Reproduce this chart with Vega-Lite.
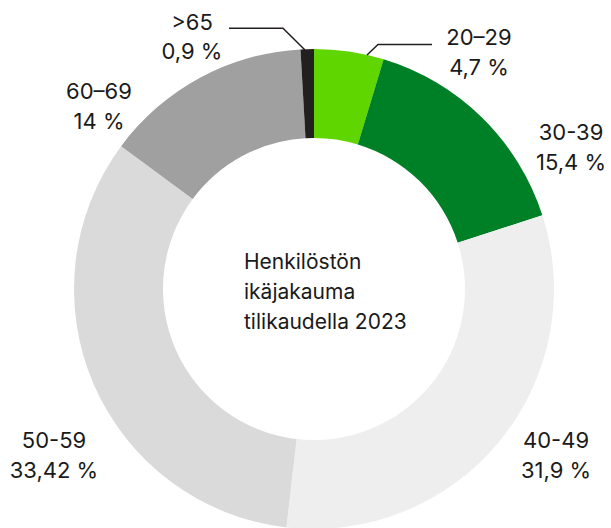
{
  "$schema": "https://vega.github.io/schema/vega-lite/v6.json",
  "width": 594,
  "height": 478,
  "autosize": {"type": "none"},
  "padding": {"left": 17, "top": 50, "right": 0, "bottom": 0},
  "background": "white",
  "config": {"view": {"stroke": null}, "font": "Inter"},
  "datasets": {
    "ages": [
      {"group": "20–29", "pct": 4.7},
      {"group": "30-39", "pct": 15.4},
      {"group": "40-49", "pct": 31.9},
      {"group": "50-59", "pct": 33.42},
      {"group": "60-69", "pct": 14},
      {"group": ">65", "pct": 0.9}
    ],
    "labels": [
      {"label": ">65\n0,9 %", "x": -122, "y": 266.5},
      {"label": "20–29\n4,7 %", "x": 165, "y": 251},
      {"label": "30-39\n15,4 %", "x": 257, "y": 156},
      {"label": "60–69\n14 %", "x": -215, "y": 197},
      {"label": "50-59\n33,42 %", "x": -260, "y": -152},
      {"label": "40-49\n31,9 %", "x": 242, "y": -152}
    ],
    "leaders": [
      {"line": "a", "k": 1, "x": -85, "y": 260.7},
      {"line": "a", "k": 2, "x": -31, "y": 260.7},
      {"line": "a", "k": 3, "x": -9, "y": 239},
      {"line": "b", "k": 1, "x": 53, "y": 234},
      {"line": "b", "k": 2, "x": 64, "y": 244.5},
      {"line": "b", "k": 3, "x": 118, "y": 244.5}
    ],
    "center": [
      {"label": "Henkilöstön\nikäjakauma\ntilikaudella 2023", "x": -70, "y": 26}
    ]
  },
  "layer": [
    {
      "data": {"name": "ages"},
      "mark": {"type": "arc", "radius": 240, "innerRadius": 151},
      "encoding": {
        "theta": {"field": "pct", "type": "quantitative", "stack": true},
        "color": {
          "field": "group",
          "type": "nominal",
          "scale": {
            "domain": ["20–29", "30-39", "40-49", "50-59", "60-69", ">65"],
            "range": ["#5fd600", "#008026", "#eeeeee", "#dadada", "#a0a0a0", "#231f20"]
          },
          "legend": null
        }
      }
    },
    {
      "data": {"name": "leaders"},
      "mark": {"type": "line", "color": "#231f20", "strokeWidth": 1.5},
      "encoding": {
        "x": {"field": "x", "type": "quantitative", "scale": {"domain": [-297, 297], "nice": false, "zero": false}, "axis": null},
        "y": {"field": "y", "type": "quantitative", "scale": {"domain": [-239, 239], "nice": false, "zero": false}, "axis": null},
        "detail": {"field": "line"},
        "order": {"field": "k", "type": "quantitative"}
      }
    },
    {
      "data": {"name": "labels"},
      "mark": {"type": "text", "lineBreak": "\n", "lineHeight": 29.5, "fontSize": 22, "align": "center", "baseline": "middle", "color": "#1a1a1a"},
      "encoding": {
        "x": {"field": "x", "type": "quantitative", "scale": {"domain": [-297, 297], "nice": false, "zero": false}, "axis": null},
        "y": {"field": "y", "type": "quantitative", "scale": {"domain": [-239, 239], "nice": false, "zero": false}, "axis": null},
        "text": {"field": "label"}
      }
    },
    {
      "data": {"name": "center"},
      "mark": {"type": "text", "lineBreak": "\n", "lineHeight": 30, "fontSize": 21, "align": "left", "baseline": "middle", "color": "#1a1a1a"},
      "encoding": {
        "x": {"field": "x", "type": "quantitative", "scale": {"domain": [-297, 297], "nice": false, "zero": false}, "axis": null},
        "y": {"field": "y", "type": "quantitative", "scale": {"domain": [-239, 239], "nice": false, "zero": false}, "axis": null},
        "text": {"field": "label"}
      }
    }
  ]
}
